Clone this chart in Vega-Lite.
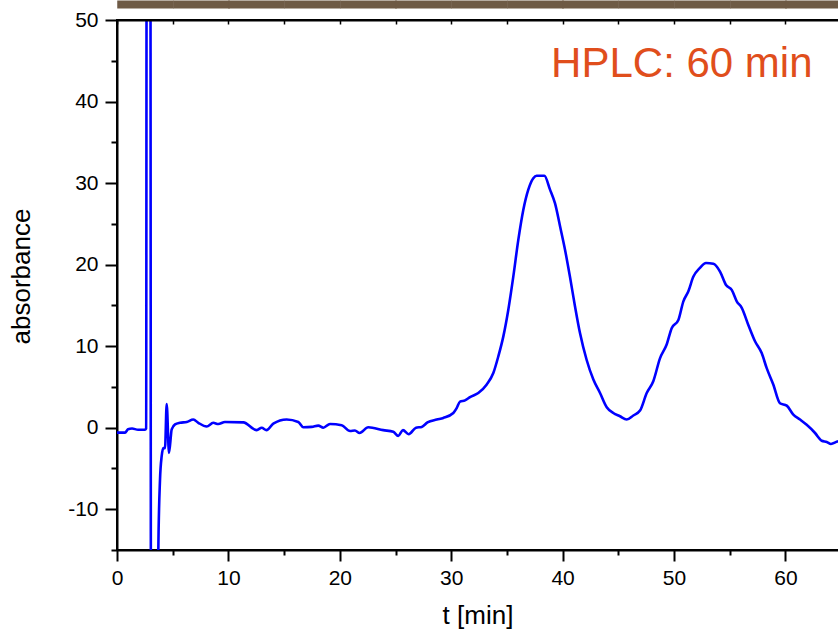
{
  "$schema": "https://vega.github.io/schema/vega-lite/v6.json",
  "autosize": "none",
  "width": 721,
  "height": 530,
  "padding": {"left": 117, "top": 20, "right": 0, "bottom": 81},
  "background": "white",
  "config": {
    "view": {"stroke": "black", "strokeWidth": 2, "strokeDash": [721, 530, 1260, 10]},
    "font": "Liberation Sans",
    "axis": {"labelFont": "Liberation Sans", "titleFont": "Liberation Sans", "labelColor": "black", "titleColor": "black", "domainColor": "black", "tickColor": "black", "grid": false, "titleFontWeight": "normal"}
  },
  "datasets": {
    "trace": [
      {"t": 0, "a": -0.6}, {"t": 0.72, "a": -0.6}, {"t": 0.99, "a": -0.2}, {"t": 1.35, "a": -0.1},
      {"t": 1.89, "a": -0.25}, {"t": 2.51, "a": -0.25}, {"t": 2.62, "a": -0.1}, {"t": 2.66, "a": 60},
      {"t": 3.0, "a": 60}, {"t": 3.05, "a": -30}, {"t": 3.65, "a": -30}, {"t": 3.71, "a": -15},
      {"t": 3.86, "a": -6.4}, {"t": 4.01, "a": -3.5}, {"t": 4.16, "a": -2.5}, {"t": 4.31, "a": -2.5},
      {"t": 4.46, "a": 2.9}, {"t": 4.67, "a": -3.1}, {"t": 4.91, "a": -0.2}, {"t": 5.21, "a": 0.4},
      {"t": 5.66, "a": 0.6}, {"t": 6.26, "a": 0.7}, {"t": 6.85, "a": 1.0}, {"t": 7.3, "a": 0.6},
      {"t": 8.05, "a": 0.15}, {"t": 8.64, "a": 0.6}, {"t": 9.09, "a": 0.45}, {"t": 9.69, "a": 0.7},
      {"t": 11.34, "a": 0.65}, {"t": 12.54, "a": -0.3}, {"t": 12.99, "a": 0}, {"t": 13.42, "a": -0.3},
      {"t": 14.03, "a": 0.5}, {"t": 15.23, "a": 1.0}, {"t": 16.27, "a": 0.7}, {"t": 16.72, "a": 0.05},
      {"t": 17.48, "a": 0.1}, {"t": 18.07, "a": 0.25}, {"t": 18.52, "a": 0}, {"t": 19.12, "a": 0.45},
      {"t": 20.17, "a": 0.3}, {"t": 20.92, "a": -0.4}, {"t": 21.36, "a": -0.35}, {"t": 21.77, "a": -0.65},
      {"t": 22.56, "a": 0.05}, {"t": 23.9, "a": -0.3}, {"t": 24.8, "a": -0.5}, {"t": 25.25, "a": -1.0},
      {"t": 25.67, "a": -0.3}, {"t": 26.18, "a": -0.8}, {"t": 26.84, "a": 0}, {"t": 27.35, "a": 0.1},
      {"t": 27.87, "a": 0.65}, {"t": 28.7, "a": 1.0}, {"t": 29.29, "a": 1.2}, {"t": 30.19, "a": 1.8},
      {"t": 30.49, "a": 2.4}, {"t": 30.79, "a": 3.2}, {"t": 31.24, "a": 3.35}, {"t": 31.69, "a": 3.75},
      {"t": 32.43, "a": 4.25}, {"t": 33.19, "a": 5.3}, {"t": 33.78, "a": 6.7}, {"t": 34.23, "a": 8.75},
      {"t": 34.68, "a": 11.2}, {"t": 35.13, "a": 14.5}, {"t": 35.57, "a": 18.5}, {"t": 36.02, "a": 23.0},
      {"t": 36.47, "a": 26.7}, {"t": 36.92, "a": 29.2}, {"t": 37.37, "a": 30.6}, {"t": 37.67, "a": 30.9},
      {"t": 38.36, "a": 30.9}, {"t": 38.87, "a": 29.2}, {"t": 39.32, "a": 27.5}, {"t": 39.77, "a": 24.7},
      {"t": 40.22, "a": 21.8}, {"t": 40.66, "a": 18.5}, {"t": 41.11, "a": 14.9}, {"t": 41.56, "a": 11.6},
      {"t": 42.16, "a": 8.3}, {"t": 42.76, "a": 5.9}, {"t": 43.36, "a": 4.25}, {"t": 43.96, "a": 2.5},
      {"t": 44.55, "a": 1.8}, {"t": 45.15, "a": 1.4}, {"t": 45.75, "a": 1.0}, {"t": 46.35, "a": 1.5},
      {"t": 46.95, "a": 2.1}, {"t": 47.55, "a": 4.25}, {"t": 48.14, "a": 5.7}, {"t": 48.74, "a": 8.5},
      {"t": 49.34, "a": 10.2}, {"t": 49.79, "a": 12.2}, {"t": 50.39, "a": 13.2}, {"t": 50.84, "a": 15.5},
      {"t": 51.28, "a": 16.7}, {"t": 51.73, "a": 18.5}, {"t": 52.33, "a": 19.6}, {"t": 52.87, "a": 20.2},
      {"t": 53.53, "a": 20.1}, {"t": 54.13, "a": 19.15}, {"t": 54.67, "a": 17.5}, {"t": 55.18, "a": 16.9},
      {"t": 55.63, "a": 15.5}, {"t": 56.08, "a": 14.7}, {"t": 56.67, "a": 12.6}, {"t": 57.27, "a": 10.6},
      {"t": 57.87, "a": 9.15}, {"t": 58.32, "a": 7.3}, {"t": 58.91, "a": 5.3}, {"t": 59.51, "a": 3.0},
      {"t": 60.12, "a": 2.7}, {"t": 60.71, "a": 1.6}, {"t": 61.31, "a": 1.0}, {"t": 61.91, "a": 0.35},
      {"t": 62.66, "a": -0.65}, {"t": 63.26, "a": -1.6}, {"t": 63.71, "a": -1.75}, {"t": 64.09, "a": -2.0},
      {"t": 64.66, "a": -1.7}, {"t": 65.0, "a": -1.6}
    ],
    "label": [{"t": 50.7, "a": 43.0, "text": "HPLC: 60 min"}]
  },
  "resolve": {"axis": {"x": "independent"}},
  "layer": [
    {
      "data": {"name": "trace"},
      "mark": {"type": "line", "color": "#0000FF", "strokeWidth": 2.6, "clip": true, "interpolate": "monotone"},
      "encoding": {
        "x": {
          "field": "t", "type": "quantitative",
          "scale": {"domain": [0, 64.72], "nice": false, "zero": false},
          "axis": {
            "orient": "bottom",
            "values": [0, 5, 10, 15, 20, 25, 30, 35, 40, 45, 50, 55, 60],
            "labelExpr": "datum.value % 10 === 0 ? '' + datum.value : ''",
            "tickSize": {"condition": {"test": "datum.value % 10 !== 0", "value": 5}, "value": 11},
            "tickWidth": 2,
            "domainWidth": 2,
            "labelFontSize": 21,
            "labelPadding": 6,
            "labelFlush": false,
            "labelOverlap": false,
            "title": "t [min]",
            "titleFontSize": 26,
            "titlePadding": 14
          }
        },
        "y": {
          "field": "a", "type": "quantitative",
          "scale": {"domain": [-15, 50], "nice": false, "zero": false},
          "axis": {
            "orient": "left",
            "values": [-15, -10, -5, 0, 5, 10, 15, 20, 25, 30, 35, 40, 45, 50],
            "labelExpr": "datum.value % 10 === 0 ? '' + datum.value : ''",
            "tickSize": {"condition": {"test": "datum.value % 10 !== 0", "value": 6}, "value": 12},
            "tickWidth": 2,
            "domainWidth": 2,
            "labelFontSize": 21,
            "labelPadding": 7,
            "labelFlush": false,
            "labelOverlap": false,
            "title": "absorbance",
            "titleFontSize": 26,
            "titlePadding": 33,
            "titleY": 256
          }
        }
      }
    },
    {
      "data": {"name": "label"},
      "mark": {"type": "text", "color": "#E04E1C", "fontSize": 42, "font": "Liberation Sans", "align": "center", "baseline": "alphabetic"},
      "encoding": {
        "x": {
          "field": "t", "type": "quantitative",
          "axis": {
            "orient": "top",
            "offset": 0,
            "zindex": 1,
            "values": [0, 2.5, 5, 7.5, 10, 12.5, 15, 17.5, 20, 22.5, 25, 27.5, 30, 32.5, 35, 37.5, 40, 42.5, 45, 47.5, 50, 52.5, 55, 57.5, 60, 62.5],
            "labels": false,
            "ticks": true,
            "tickSize": {"condition": {"test": "datum.value % 5 === 0", "value": -4}, "value": 20},
            "tickWidth": {"condition": {"test": "datum.value % 5 === 0", "value": 1.5}, "value": 56.5},
            "tickColor": {"condition": {"test": "datum.value % 5 === 0", "value": "black"}, "value": "#6E5A45"},
            "tickDash": {"condition": {"test": "datum.value % 5 === 0", "value": [1, 0]}, "value": [0, 12, 8, 100]},
            "domain": true,
            "domainWidth": 2,
            "domainColor": "black",
            "title": null
          }
        },
        "y": {"field": "a", "type": "quantitative"},
        "text": {"field": "text"}
      }
    }
  ]
}
